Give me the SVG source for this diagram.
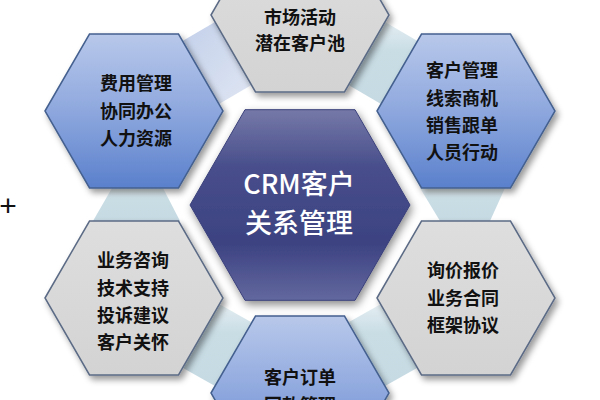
<svg xmlns="http://www.w3.org/2000/svg" width="600" height="400" viewBox="0 0 600 400">
<defs>
<linearGradient id="gBlue" x1="0" y1="0" x2="0" y2="1">
<stop offset="0" stop-color="#b8c8ea"/>
<stop offset="0.5" stop-color="#8ea8de"/>
<stop offset="1" stop-color="#5a80cc"/>
</linearGradient>
<linearGradient id="gGrey" x1="0" y1="0" x2="0" y2="1">
<stop offset="0" stop-color="#dedede"/>
<stop offset="1" stop-color="#d3d3d3"/>
</linearGradient>
<linearGradient id="gCenter" x1="0" y1="0" x2="0" y2="1">
<stop offset="0" stop-color="#7579a8"/>
<stop offset="0.3" stop-color="#484e8b"/>
<stop offset="0.7" stop-color="#3c4281"/>
<stop offset="1" stop-color="#63689f"/>
</linearGradient>
<linearGradient id="gBandA" x1="0" y1="0" x2="1" y2="1">
<stop offset="0" stop-color="#c3d0ea"/>
<stop offset="1" stop-color="#dfe6f3"/>
</linearGradient>
<linearGradient id="gBandB" x1="0" y1="0" x2="0" y2="1">
<stop offset="0" stop-color="#e4eef2"/>
<stop offset="0.35" stop-color="#c9dde5"/>
<stop offset="1" stop-color="#c6dae3"/>
</linearGradient>
<filter id="sh" x="-20%" y="-20%" width="140%" height="140%">
<feDropShadow dx="3" dy="4" stdDeviation="3" flood-color="#000" flood-opacity="0.4"/>
</filter>
<filter id="shc" x="-20%" y="-20%" width="140%" height="140%">
<feDropShadow dx="2" dy="4" stdDeviation="4" flood-color="#000" flood-opacity="0.45"/>
</filter>
</defs>
<style>
.blue{fill:url(#gBlue);stroke:#44608f;stroke-width:1.5;filter:url(#sh)}
.grey{fill:url(#gGrey);stroke:#5b6b85;stroke-width:1.5;filter:url(#sh)}
.ctr{fill:url(#gCenter);stroke:#3a407a;stroke-width:1;filter:url(#shc)}
.t{font-family:"Noto Sans CJK SC","Noto Sans",sans-serif;font-size:18px;font-weight:700;fill:#111;text-anchor:middle}
.tc{font-family:"Noto Sans CJK SC","Noto Sans",sans-serif;font-size:27px;font-weight:500;fill:#fff;text-anchor:middle}
</style>
<rect width="600" height="400" fill="#fff"/>
<g id="connectors">
<polygon points="182.5,41 215,22 251.5,85 219,104" fill="url(#gBandA)"/>
<polygon points="385,22 417.5,41 381,104 348.5,85" fill="url(#gBandB)"/>
<polygon points="112,188 163,188 180,221 93,221" fill="url(#gBandB)"/>
<polygon points="420,188 505,188 490,221 440,221" fill="url(#gBandB)"/>
<polygon points="219,304 251,322 215,386 183,368" fill="url(#gBandB)"/>
<polygon points="349,322 381,304 417,368 385,386" fill="url(#gBandB)"/>
</g>
<g id="n-top">
<polygon class="grey" points="211,15 255.5,-62 344.5,-62 389,15 344.5,92 255.5,92"/>
<text class="t" x="300" y="24">市场活动</text>
<text class="t" x="300" y="50">潜在客户池</text>
</g>
<g id="n-topleft">
<polygon class="blue" points="45,111 89.5,34 178.5,34 223,111 178.5,188 89.5,188"/>
<text class="t" x="136" y="90">费用管理</text>
<text class="t" x="136" y="117.5">协同办公</text>
<text class="t" x="136" y="145">人力资源</text>
</g>
<g id="n-topright">
<polygon class="blue" points="377,111 421.5,34 510.5,34 555,111 510.5,188 421.5,188"/>
<text class="t" x="462" y="77">客户管理</text>
<text class="t" x="462" y="105">线索商机</text>
<text class="t" x="462" y="132">销售跟单</text>
<text class="t" x="462" y="159">人员行动</text>
</g>
<g id="n-bottomleft">
<polygon class="grey" points="45,298 89.5,221 178.5,221 223,298 178.5,375 89.5,375"/>
<text class="t" x="133" y="267">业务咨询</text>
<text class="t" x="133" y="295">技术支持</text>
<text class="t" x="133" y="322">投诉建议</text>
<text class="t" x="133" y="349">客户关怀</text>
</g>
<g id="n-bottomright">
<polygon class="grey" points="377,298 421.5,221 510.5,221 555,298 510.5,375 421.5,375"/>
<text class="t" x="463" y="277">询价报价</text>
<text class="t" x="463" y="305">业务合同</text>
<text class="t" x="463" y="332">框架协议</text>
</g>
<g id="n-bottom">
<polygon class="blue" points="211,393 255.5,316 344.5,316 389,393 344.5,470 255.5,470"/>
<text class="t" x="300" y="384">客户订单</text>
<text class="t" x="300" y="412">回款管理</text>
</g>
<g id="n-center">
<polygon class="ctr" points="190,205 245,109.7 355,109.7 410,205 355,300.3 245,300.3"/>
<text class="tc" x="299" y="193.5">CRM客户</text>
<text class="tc" x="299" y="232.5">关系管理</text>
</g>
<text x="8" y="216" font-family="Liberation Sans, sans-serif" font-size="30" fill="#111" text-anchor="middle">+</text>
</svg>
